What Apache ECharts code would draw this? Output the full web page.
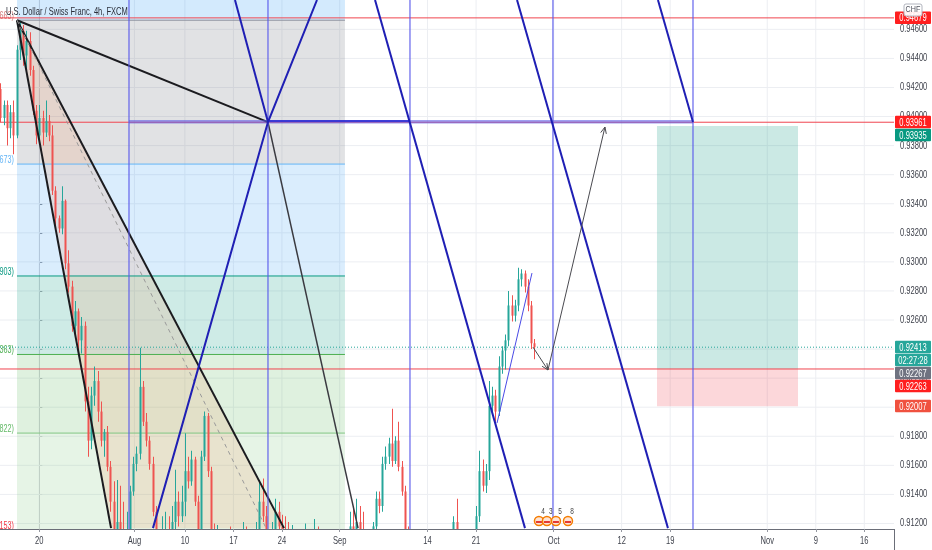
<!DOCTYPE html>
<html>
<head>
<meta charset="utf-8">
<script src="https://cdn.jsdelivr.net/npm/echarts@6/dist/echarts.min.js"></script>
<style>html,body{margin:0;padding:0;background:#fff}#c{width:932px;height:550px}</style>
</head>
<body>
<div id="c"></div>
<script>
const FONT = "'Liberation Sans',Arial,sans-serif";
const SX = 0.72;   // horizontal text squeeze of the reference rendering

// ---------- axes (x in trading days since Mon 20 Jul 2020, y in CHF) ----------
const X_MIN = -4.05, X_MAX = 88.06;
const Y_MIN = 0.91162, Y_MAX = 0.94802;
const xTickValues = [0, 9.8, 15, 20, 25, 30.95, 40, 45, 53, 60, 65, 75, 80, 85];
const xTickLabels = ['20', 'Aug', '10', '17', '24', 'Sep', '14', '21', 'Oct', '12', '19', 'Nov', '9', '16'];
const yTickValues = [0.912, 0.914, 0.916, 0.918, 0.920, 0.922, 0.924, 0.926, 0.928, 0.930,
  0.932, 0.934, 0.936, 0.938, 0.940, 0.942, 0.944, 0.946];

// ---------- 8h candles ----------
const firstBarDay = -4;
const barsPerDay = 3;
const opens = [
0.9419,0.9399,0.9408,0.9392,0.9403,0.9387,0.9446,0.9459,0.9442,0.9452,
0.9432,0.9404,0.9387,0.9399,0.9389,0.9397,0.9387,0.9349,0.9330,0.9323,
0.9342,0.9299,0.9283,0.9256,0.9266,0.9246,0.9256,0.9204,0.9177,0.9208,
0.9218,0.9197,0.9177,0.9183,0.9159,0.9135,0.9108,0.9121,0.9104,0.9094,
0.9114,0.9142,0.9161,0.9168,0.9214,0.9190,0.9177,0.9161,0.9128,0.9104,
0.9090,0.9101,0.9108,0.9097,0.9121,0.9135,0.9125,0.9135,0.9156,0.9149,
0.9164,0.9135,0.9108,0.9166,0.9194,0.9156,0.9108,0.9094,0.9104,0.9087,
0.9077,0.9087,0.9080,0.9094,0.9083,0.9097,0.9104,0.9094,0.9104,0.9097,
0.9111,0.9135,0.9125,0.9104,0.9094,0.9108,0.9128,0.9118,0.9111,0.9104,
0.9097,0.9104,0.9094,0.9101,0.9090,0.9104,0.9094,0.9104,0.9114,0.9101,
0.9087,0.9094,0.9080,0.9070,0.9077,0.9066,0.9080,0.9094,0.9104,0.9118,
0.9108,0.9121,0.9111,0.9097,0.9087,0.9097,0.9118,0.9137,0.9132,0.9161,
0.9166,0.9175,0.9163,0.9177,0.9159,0.9142,0.9111,0.9094,0.9080,0.9090,
0.9080,0.9087,0.9077,0.9087,0.9094,0.9083,0.9094,0.9080,0.9090,0.9083,
0.9097,0.9121,0.9104,0.9094,0.9101,0.9090,0.9097,0.9108,0.9125,0.9156,
0.9146,0.9156,0.9201,0.9208,0.9197,0.9228,0.9239,0.9246,0.9270,0.9263,
0.9270,0.9288,0.9292,0.9283,0.9270,0.9244];
const closes = [
0.9399,0.9408,0.9392,0.9403,0.9387,0.9446,0.9459,0.9442,0.9452,0.9432,
0.9404,0.9387,0.9399,0.9389,0.9397,0.9387,0.9349,0.9330,0.9323,0.9342,
0.9299,0.9283,0.9256,0.9266,0.9246,0.9256,0.9204,0.9177,0.9208,0.9218,
0.9197,0.9177,0.9183,0.9159,0.9135,0.9108,0.9121,0.9104,0.9094,0.9114,
0.9142,0.9161,0.9168,0.9214,0.9190,0.9177,0.9161,0.9128,0.9104,0.9090,
0.9101,0.9108,0.9097,0.9121,0.9135,0.9125,0.9135,0.9156,0.9149,0.9164,
0.9135,0.9108,0.9166,0.9194,0.9156,0.9108,0.9094,0.9104,0.9087,0.9077,
0.9087,0.9080,0.9094,0.9083,0.9097,0.9104,0.9094,0.9104,0.9097,0.9111,
0.9135,0.9125,0.9104,0.9094,0.9108,0.9128,0.9118,0.9111,0.9104,0.9097,
0.9104,0.9094,0.9101,0.9090,0.9104,0.9094,0.9104,0.9114,0.9101,0.9087,
0.9094,0.9080,0.9070,0.9077,0.9066,0.9080,0.9094,0.9104,0.9118,0.9108,
0.9121,0.9111,0.9097,0.9087,0.9097,0.9118,0.9137,0.9132,0.9161,0.9166,
0.9175,0.9163,0.9177,0.9159,0.9142,0.9111,0.9094,0.9080,0.9090,0.9080,
0.9087,0.9077,0.9087,0.9094,0.9083,0.9094,0.9080,0.9090,0.9083,0.9097,
0.9121,0.9104,0.9094,0.9101,0.9090,0.9097,0.9108,0.9125,0.9156,0.9146,
0.9156,0.9201,0.9208,0.9197,0.9228,0.9239,0.9246,0.9270,0.9263,0.9270,
0.9288,0.9292,0.9283,0.9270,0.9244,0.92413];
const lows = [
0.9396,0.9394,0.9380,0.9385,0.9374,0.9385,0.9439,0.9435,0.9432,0.9428,
0.9401,0.9381,0.9383,0.9380,0.9386,0.9383,0.9346,0.9325,0.9320,0.9319,
0.9295,0.9279,0.9252,0.9247,0.9239,0.9237,0.9197,0.9166,0.9171,0.9201,
0.9190,0.9173,0.9166,0.9156,0.9128,0.9094,0.9094,0.9087,0.9080,0.9083,
0.9108,0.9139,0.9156,0.9164,0.9187,0.9173,0.9157,0.9125,0.9097,0.9080,
0.9073,0.9087,0.9083,0.9090,0.9114,0.9118,0.9121,0.9125,0.9144,0.9146,
0.9132,0.9101,0.9104,0.9163,0.9152,0.9101,0.9083,0.9087,0.9080,0.9066,
0.9070,0.9073,0.9073,0.9077,0.9080,0.9090,0.9087,0.9090,0.9090,0.9094,
0.9108,0.9121,0.9097,0.9087,0.9087,0.9104,0.9111,0.9104,0.9097,0.9090,
0.9090,0.9087,0.9087,0.9083,0.9087,0.9087,0.9090,0.9097,0.9094,0.9080,
0.9077,0.9073,0.9063,0.9059,0.9056,0.9059,0.9073,0.9090,0.9101,0.9101,
0.9104,0.9104,0.9090,0.9080,0.9080,0.9094,0.9114,0.9127,0.9128,0.9157,
0.9161,0.9159,0.9161,0.9156,0.9139,0.9104,0.9087,0.9073,0.9073,0.9070,
0.9073,0.9066,0.9070,0.9080,0.9077,0.9077,0.9073,0.9073,0.9077,0.9080,
0.9094,0.9101,0.9087,0.9087,0.9083,0.9083,0.9090,0.9104,0.9121,0.9142,
0.9141,0.9150,0.9194,0.9190,0.9194,0.9223,0.9226,0.9242,0.9259,0.9259,
0.9266,0.9283,0.9279,0.9266,0.9240,0.9233];
const highs = [
0.9423,0.9411,0.9411,0.9408,0.9411,0.9449,0.9466,0.9463,0.9459,0.9458,
0.9435,0.9408,0.9408,0.9404,0.9411,0.9401,0.9394,0.9352,0.9332,0.9352,
0.9343,0.9308,0.9287,0.9273,0.9268,0.9262,0.9259,0.9214,0.9214,0.9228,
0.9225,0.9204,0.9185,0.9187,0.9163,0.9149,0.9150,0.9146,0.9135,0.9128,
0.9146,0.9166,0.9173,0.9241,0.9218,0.9196,0.9180,0.9166,0.9132,0.9114,
0.9125,0.9128,0.9125,0.9132,0.9157,0.9142,0.9146,0.9182,0.9166,0.9170,
0.9166,0.9139,0.9170,0.9197,0.9196,0.9159,0.9120,0.9119,0.9114,0.9108,
0.9104,0.9118,0.9114,0.9108,0.9113,0.9121,0.9118,0.9114,0.9116,0.9121,
0.9150,0.9151,0.9132,0.9114,0.9121,0.9137,0.9135,0.9126,0.9125,0.9121,
0.9119,0.9114,0.9111,0.9108,0.9120,0.9111,0.9111,0.9123,0.9118,0.9108,
0.9104,0.9101,0.9090,0.9087,0.9083,0.9087,0.9104,0.9114,0.9128,0.9132,
0.9137,0.9132,0.9128,0.9108,0.9111,0.9121,0.9142,0.9142,0.9166,0.9173,
0.9179,0.9199,0.9180,0.9190,0.9163,0.9146,0.9118,0.9101,0.9101,0.9097,
0.9097,0.9094,0.9094,0.9101,0.9104,0.9102,0.9101,0.9097,0.9101,0.9108,
0.9125,0.9137,0.9111,0.9108,0.9104,0.9108,0.9111,0.9132,0.9170,0.9164,
0.9161,0.9218,0.9214,0.9212,0.9235,0.9242,0.9250,0.9280,0.9277,0.9274,
0.9296,0.9295,0.9294,0.9288,0.9273,0.9247];

// ---------- drawings ----------
const fibSpan = [-2.30, 31.49];
const fibRatios = ['1.618', '1', '0.786', '0.618', '0.5', '0.382', '0.236'];
const fibPrices = [0.97502, 0.94663, 0.93673, 0.92903, 0.92363, 0.91822, 0.91153];

const triApex = [-2.30, 0.94663];
const triLeftFoot = [7.39, 0.91168];
const triRightFoot = [25.21, 0.91168];
const triMedianFoot = [23.36, 0.91168];
const triPivot = [23.56, 0.93962];
const triPivotFoot = [32.84, 0.91168];

const cycleDays = [9.24, 23.56, 38.19, 52.92, 67.35];
const cycleLevel = 0.93965;
const cycleUpperLevel = 0.93970;
const fanLines = [
  [[20.16, 0.94802], [23.56, 0.93962]],
  [[28.61, 0.94802], [23.56, 0.93962], [11.71, 0.91168]],
  [[34.59, 0.94802], [50.04, 0.91168]],
  [[49.22, 0.94802], [64.77, 0.91168]],
  [[63.74, 0.94802], [67.35, 0.93962]]
];
const rallyLine = [[47.16, 0.91891], [50.76, 0.92923]];
const forecastPath = [[50.86, 0.92414], [52.41, 0.92256], [58.28, 0.93928]];

const posSpan = [63.64, 78.17];
const posTarget = 0.93935, posEntry = 0.92263, posStop = 0.92007;

const redLevels = [0.94679, 0.93961, 0.92263];
const lastPrice = 0.92413;

const eventDays = [51.48, 52.30, 53.23, 54.47];
const eventCounts = ['4', '3', '5', '8'];

const tagValues = [0.94679, 0.93961, 0.93935, 0.92413, 0.92267, 0.92263, 0.92007];
const tagTexts = ['0.94679', '0.93961', '0.93935', '0.92413', '0.92267', '0.92263', '0.92007'];
const countdownText = '02:27:28';
const titleText = 'U.S. Dollar / Swiss Franc, 4h, FXCM';

// ---------- styles ----------
const fibBandColors = ['rgba(33,150,243,0.2)', 'rgba(120,123,134,0.22)', 'rgba(33,150,243,0.17)',
  'rgba(8,153,129,0.2)', 'rgba(76,175,80,0.18)', 'rgba(129,199,132,0.2)'];
const fibLineColors = ['#2962ff', '#8a8d98', '#64b5f6', '#089981', '#4caf50', '#81c784', '#f23645'];
const fibLabelColors = ['#2962ff', '#d27b7b', '#64b5f6', '#089981', '#4caf50', '#66bb6a', '#f23645'];
const tagColors = ['#ff1f1f', '#ff1f1f', '#089981', '#26a69a', '#6f7280', '#ff1f1f', '#f0513f'];
const UP = '#26a69a', DOWN = '#ef5350';
const LABEL = '#3f424c';

// ---------- helpers ----------
function pts(api, list) { return list.map(p => api.coord(p)); }
function pl(api, list, st) {
  return { type: 'polyline', silent: true, shape: { points: pts(api, list) },
    style: Object.assign({ fill: 'none', lineWidth: 1 }, st) };
}
function pg(api, list, fill) {
  return { type: 'polygon', silent: true, shape: { points: pts(api, list) }, style: { fill: fill } };
}
function box(api, x0, v0, x1, v1, fill) {
  return pg(api, [[x0, v0], [x1, v0], [x1, v1], [x0, v1]], fill);
}
function txt(x, y, text, fill, size, align, valign) {
  return { type: 'text', silent: true, x: x, y: y, scaleX: SX,
    style: { text: text, fill: fill, fontSize: size, fontFamily: FONT, align: align, verticalAlign: valign } };
}
function arrowHead(api, from, to, st) {
  const a = api.coord(from), b = api.coord(to);
  const ang = Math.atan2(b[1] - a[1], b[0] - a[0]);
  const L = 7, w = 0.42;
  return { type: 'polyline', silent: true, shape: { points: [
    [b[0] - L * Math.cos(ang - w), b[1] - L * Math.sin(ang - w)], b,
    [b[0] - L * Math.cos(ang + w), b[1] - L * Math.sin(ang + w)]] },
    style: Object.assign({ fill: 'none', lineWidth: 1 }, st) };
}
function layer(name, z, build, clip) {
  return { type: 'custom', name: name, z: z, silent: true, clip: clip !== false,
    coordinateSystem: 'cartesian2d', data: [[X_MIN, Y_MIN]],
    renderItem: (params, api) => ({ type: 'group', children: build(api) }) };
}

const gridLayer = layer('grid', 1, api => {
  const st = { stroke: '#eceef2', lineWidth: 1 };
  return yTickValues.map(v => pl(api, [[X_MIN, v], [X_MAX, v]], st))
    .concat(xTickValues.map(t => pl(api, [[t, Y_MIN], [t, Y_MAX]], st)));
});

const fibLayer = layer('fib', 2, api => {
  const out = [];
  for (let i = 0; i < fibPrices.length - 1; i++) {
    out.push(box(api, fibSpan[0], fibPrices[i], fibSpan[1], fibPrices[i + 1], fibBandColors[i]));
  }
  return out;
});

const positionLayer = layer('position', 2, api => [
  box(api, posSpan[0], posTarget, posSpan[1], posEntry, 'rgba(8,153,129,0.21)'),
  box(api, posSpan[0], posEntry, posSpan[1], posStop, 'rgba(242,54,69,0.2)')
]);

const triangleFill = layer('triangleFill', 3, api => [
  pg(api, [triApex, triLeftFoot, triRightFoot], 'rgba(245,140,90,0.17)')
]);

const fibLines = layer('fibLines', 4, api => {
  const out = [];
  for (let i = 1; i < fibPrices.length; i++) {
    out.push(pl(api, [[fibSpan[0], fibPrices[i]], [fibSpan[1], fibPrices[i]]], { stroke: fibLineColors[i] }));
    const p = api.coord([fibSpan[0], fibPrices[i]]);
    out.push(txt(p[0] - 3, p[1] + 1, fibRatios[i] + '(' + fibPrices[i].toFixed(5) + ')',
      fibLabelColors[i], 10, 'right', 'bottom'));
  }
  return out;
});

const levelLines = layer('levels', 4, api => {
  const out = redLevels.map(v => pl(api, [[X_MIN, v], [X_MAX, v]], { stroke: '#f0454f' }));
  out.push(pl(api, [[X_MIN, lastPrice], [X_MAX, lastPrice]], { stroke: '#26a69a', lineDash: [1, 2] }));
  return out;
});

const blackLines = layer('triangle', 6, api => {
  const heavy = { stroke: '#1b1b1f', lineWidth: 2 };
  return [
    pl(api, [triApex, triLeftFoot], heavy),
    pl(api, [triApex, triRightFoot], heavy),
    pl(api, [triApex, triPivot], heavy),
    pl(api, [triApex, triMedianFoot], { stroke: '#9a9a9a', lineDash: [4, 4] }),
    pl(api, [triPivot, triPivotFoot], { stroke: '#3a3a40', lineWidth: 1.5 })
  ];
});

const blueLines = layer('cycles', 7, api => {
  const out = cycleDays.map(t => pl(api, [[t, Y_MIN], [t, Y_MAX]], { stroke: 'rgba(90,90,235,0.75)', lineWidth: 1.5 }));
  out.push(pl(api, [[cycleDays[0], cycleLevel], [cycleDays[cycleDays.length - 1], cycleLevel]],
    { stroke: 'rgba(95,95,230,0.6)', lineWidth: 3.5 }));
  out.push(pl(api, [[cycleDays[1], cycleUpperLevel], [cycleDays[2], cycleUpperLevel]],
    { stroke: '#1e1ed0', lineWidth: 1.5 }));
  fanLines.forEach(l => out.push(pl(api, l, { stroke: '#1f1fb4', lineWidth: 2 })));
  out.push(pl(api, rallyLine, { stroke: '#4a4ae6', lineWidth: 1 }));
  const ar = { stroke: '#4a4a50', lineWidth: 1 };
  out.push(pl(api, forecastPath, ar));
  out.push(arrowHead(api, forecastPath[0], forecastPath[1], ar));
  out.push(arrowHead(api, forecastPath[1], forecastPath[2], ar));
  return out;
});

const eventsLayer = layer('events', 8, api => {
  const out = [];
  eventDays.forEach((t, i) => {
    const p = api.coord([t, Y_MIN]);
    const cy = p[1] - 8;
    out.push({ type: 'circle', silent: true, shape: { cx: p[0], cy: cy, r: 4.5 },
      style: { fill: '#fde3d3', stroke: '#f57c00', lineWidth: 1.5 } });
    out.push({ type: 'rect', silent: true, shape: { x: p[0] - 3, y: cy, width: 6, height: 2 },
      style: { fill: '#e53935' } });
    out.push(txt(p[0] + 4, cy - 5, eventCounts[i], '#444', 9, 'center', 'bottom'));
  });
  return out;
});

// axis labels drawn as squeezed text at the axes' own positions
const axisLabelLayer = layer('axisLabels', 9, api => {
  const out = yTickValues.map(v => {
    const p = api.coord([X_MAX, v]);
    return txt(p[0] + 6, p[1], v.toFixed(5), LABEL, 10.5, 'left', 'middle');
  });
  xTickValues.forEach((t, i) => {
    const p = api.coord([t, Y_MIN]);
    out.push(txt(p[0], p[1] + 12, xTickLabels[i], LABEL, 10.5, 'center', 'middle'));
  });
  return out;
}, false);

const candleData = opens.map((o, i) => [firstBarDay + i / barsPerDay, o, closes[i], lows[i], highs[i]]);
const candleSeries = {
  type: 'custom', name: 'USDCHF', z: 5, silent: true, clip: true,
  coordinateSystem: 'cartesian2d',
  encode: { x: 0, y: [1, 2, 3, 4] },
  data: candleData,
  renderItem: (params, api) => {
    const t = api.value(0), o = api.value(1), c = api.value(2), l = api.value(3), h = api.value(4);
    const po = api.coord([t, o]), pc = api.coord([t, c]), plo = api.coord([t, l]), phi = api.coord([t, h]);
    const col = c >= o ? UP : DOWN;
    const x = Math.round(po[0]);
    const top = Math.min(po[1], pc[1]);
    return { type: 'group', children: [
      { type: 'rect', shape: { x: x, y: phi[1], width: 1, height: plo[1] - phi[1] }, style: { fill: col } },
      { type: 'rect', shape: { x: x - 0.5, y: top, width: 2, height: Math.max(1, Math.abs(po[1] - pc[1])) }, style: { fill: col } }
    ] };
  }
};

const option = {
  animation: false,
  backgroundColor: '#ffffff',
  grid: { left: 0, right: 38, top: 0, bottom: 21 },
  xAxis: {
    type: 'value', min: X_MIN, max: X_MAX,
    axisLine: { show: true, onZero: false, lineStyle: { color: '#6b6e78' } },
    axisTick: { show: true, length: 3, customValues: xTickValues, lineStyle: { color: '#9598a1' } },
    axisLabel: { show: false },
    splitLine: { show: false }
  },
  yAxis: {
    type: 'value', position: 'right', min: Y_MIN, max: Y_MAX, scale: true,
    axisLine: { show: true, lineStyle: { color: '#6b6e78' } },
    axisTick: { show: true, length: 3, customValues: yTickValues, lineStyle: { color: '#6b6e78' } },
    axisLabel: { show: false },
    splitLine: { show: false }
  },
  series: [
    gridLayer, fibLayer, positionLayer, triangleFill, fibLines, levelLines,
    candleSeries, blackLines, blueLines, eventsLayer, axisLabelLayer
  ]
};

const chart = echarts.init(document.getElementById('c'), null, { renderer: 'canvas' });
chart.setOption(option);

// ---------- right-hand price tags ----------
(function () {
  const axisX = 932 - 38;
  const H = 13;
  const items = tagValues.map((v, i) => ({ i: i, y: chart.convertToPixel({ yAxisIndex: 0 }, v) }))
    .sort((a, b) => a.y - b.y);
  const g = [];
  let prev = -Infinity;
  function tag(c, text, fill) {
    g.push({ type: 'rect', z: 100, shape: { x: axisX + 1, y: c - 6.5, width: 36, height: 12.5, r: 1 },
      style: { fill: fill } });
    g.push({ type: 'text', z: 101, x: axisX + 19, y: c + 0.5, scaleX: SX,
      style: { text: text, fill: '#ffffff', fontSize: 10.5, fontFamily: FONT, align: 'center', verticalAlign: 'middle' } });
  }
  items.forEach(it => {
    const c = Math.max(it.y, prev + H);
    tag(c, tagTexts[it.i], tagColors[it.i]);
    prev = c;
    if (tagValues[it.i] === lastPrice) {
      tag(c + H, countdownText, tagColors[it.i]);
      prev = c + H;
    }
  });
  // currency badge
  g.push({ type: 'rect', z: 102, shape: { x: axisX + 10, y: 4, width: 18, height: 12, r: 2 },
    style: { fill: 'rgba(255,255,255,0.92)', stroke: '#b2b5be', lineWidth: 1 } });
  g.push({ type: 'text', z: 103, x: axisX + 19, y: 10, scaleX: 0.8,
    style: { text: 'CHF', fill: '#50535e', fontSize: 9, fontFamily: FONT, align: 'center', verticalAlign: 'middle' } });
  // axis line through the time-scale strip
  g.push({ type: 'line', z: 99, shape: { x1: axisX + 0.5, y1: 529, x2: axisX + 0.5, y2: 550 },
    style: { stroke: '#6b6e78', lineWidth: 1 } });
  // title
  g.push({ type: 'text', z: 104, x: 6, y: 12, scaleX: 0.655,
    style: { text: titleText, fill: '#2a2e39', fontSize: 11.5, fontFamily: FONT, align: 'left', verticalAlign: 'middle' } });
  chart.setOption({ graphic: g });
})();
</script>
</body>
</html>
